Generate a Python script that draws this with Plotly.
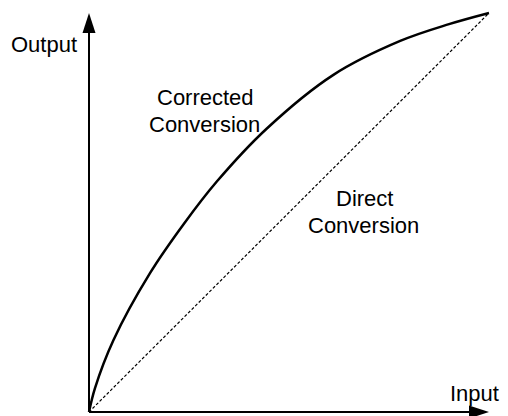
import plotly.graph_objects as go

# curve (normalised input / output)
input_level = [0.0, 0.015, 0.061, 0.1525, 0.236, 0.319, 0.444, 0.611, 0.778, 0.9, 1.0]
corrected_output = [0.0, 0.06, 0.180, 0.348, 0.470, 0.577, 0.710, 0.845, 0.930, 0.972, 1.0]
direct_input = [0.0, 1.0]
direct_output = [0.0, 1.0]

FONT = dict(family='Arial, Liberation Sans, sans-serif', size=22, color='black')

fig = go.Figure()
fig.add_trace(go.Scatter(
    x=direct_input, y=direct_output, mode='lines',
    line=dict(color='black', width=1.2, dash='3px,2px'),
    hoverinfo='skip',
))
fig.add_trace(go.Scatter(
    x=input_level, y=corrected_output, mode='lines',
    line=dict(color='black', width=2.5, shape='spline', smoothing=1),
    hoverinfo='skip',
))

# axes with arrow heads (400 px per unit along x, 399 along y)
px_x, px_y = 400, 399
head_len, head_half = 20, 6.5
fig.add_shape(type='line', xref='x', yref='y', x0=0, y0=0, x1=0, y1=1 - head_len / px_y,
              line=dict(color='black', width=2))
fig.add_shape(type='line', xref='x', yref='y', x0=0, y0=0, x1=1 - head_len / px_x, y1=0,
              line=dict(color='black', width=2))
fig.add_shape(type='path', xref='x', yref='y', xsizemode='pixel', ysizemode='pixel',
              xanchor=0, yanchor=1,
              path=f'M0,0 L{-head_half},{-head_len} L{head_half},{-head_len} Z',
              fillcolor='black', line=dict(width=0))
fig.add_shape(type='path', xref='x', yref='y', xsizemode='pixel', ysizemode='pixel',
              xanchor=1, yanchor=0,
              path=f'M0,0 L{-head_len},{-head_half} L{-head_len},{head_half} Z',
              fillcolor='black', line=dict(width=0))

labels = [
    ('Output', -0.025, 0.9223, 'right'),
    ('Corrected', 0.29, 0.787, 'center'),
    ('Conversion', 0.289, 0.72, 'center'),
    ('Direct', 0.6875, 0.5363, 'center'),
    ('Conversion', 0.685, 0.4674, 'center'),
    ('Input', 1.029, 0.0464, 'right'),
]
for txt, x, y, anchor in labels:
    fig.add_annotation(x=x, y=y, xref='x', yref='y', text=txt, showarrow=False,
                       xanchor=anchor, yanchor='middle', font=FONT)

# page body adds 8px, so figure is 500x408 and ranges span the whole figure
fig.update_layout(
    width=500, height=408,
    margin=dict(l=0, r=0, t=0, b=0),
    paper_bgcolor='white', plot_bgcolor='white',
    showlegend=False,
    xaxis=dict(range=[-0.2025, 1.0475], visible=False, fixedrange=True),
    yaxis=dict(range=[-0.01003, 1.01253], visible=False, fixedrange=True),
)
fig.write_html("out.html")
